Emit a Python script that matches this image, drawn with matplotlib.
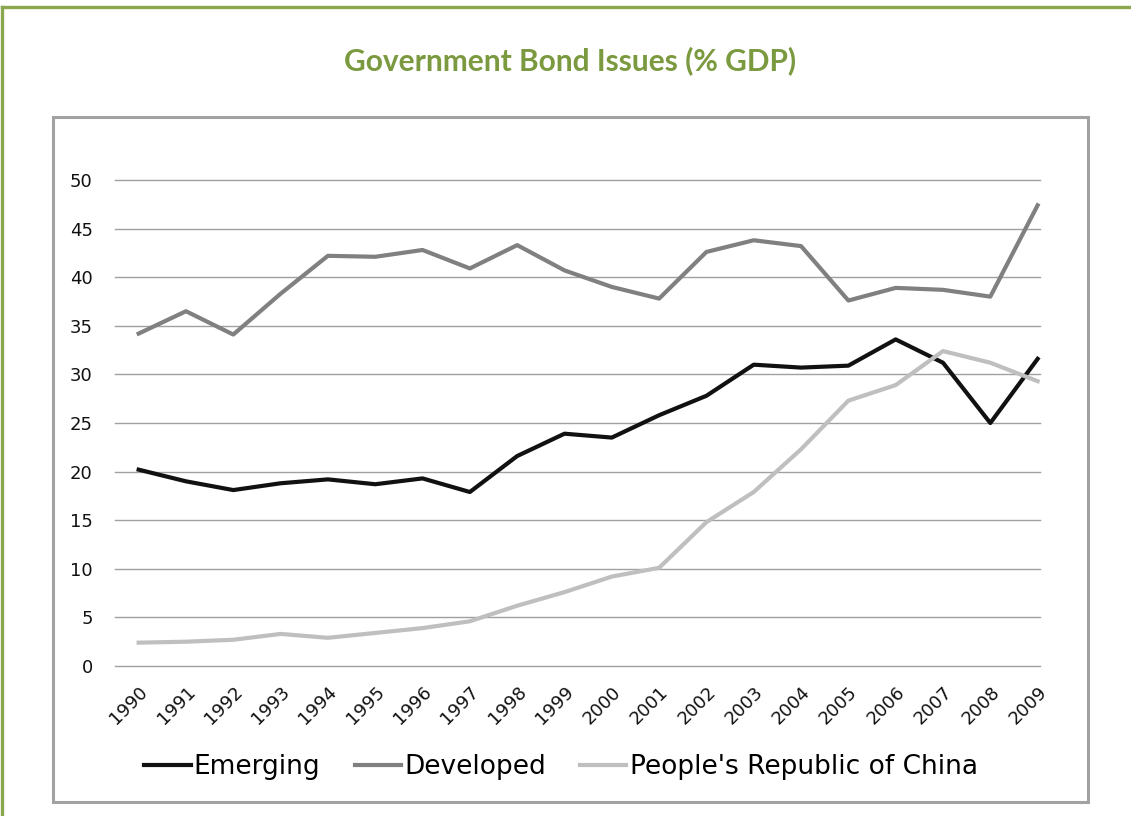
import matplotlib
matplotlib.use("Agg")
import matplotlib.pyplot as plt
from matplotlib.lines import Line2D
from matplotlib.patches import Rectangle

# values (% of GDP)
years = list(range(1990, 2010))
emerging = [20.2, 19.0, 18.1, 18.8, 19.2, 18.7, 19.3, 17.9, 21.6, 23.9,
            23.5, 25.8, 27.8, 31.0, 30.7, 30.9, 33.6, 31.2, 25.0, 31.6]
developed = [34.2, 36.5, 34.1, 38.3, 42.2, 42.1, 42.8, 40.9, 43.3, 40.7,
             39.0, 37.8, 42.6, 43.8, 43.2, 37.6, 38.9, 38.7, 38.0, 47.4]
china = [2.4, 2.5, 2.7, 3.3, 2.9, 3.4, 3.9, 4.6, 6.2, 7.6,
         9.2, 10.1, 14.8, 17.9, 22.3, 27.3, 28.9, 32.4, 31.2, 29.3]
series_names = ["Emerging", "Developed", "People's Republic of China"]
yticks = list(range(0, 51, 5))
title = "Government Bond Issues (% GDP)"

W, H = 1131, 816
fig = plt.figure(figsize=(W / 100, H / 100), dpi=100)

def px(x0, y0, x1, y1):
    # pixel box (top-left origin) -> figure fraction [l, b, w, h]
    return [x0 / W, 1 - y1 / H, (x1 - x0) / W, (y1 - y0) / H]

# green outer frame (top + left edges only)
fig.add_artist(Line2D([2 / W, 1], [1 - 7 / H, 1 - 7 / H], color="#8aa64e", lw=2.4,
                      transform=fig.transFigure))
fig.add_artist(Line2D([2 / W, 2 / W], [0, 1 - 7 / H], color="#8aa64e", lw=2.4,
                      transform=fig.transFigure))

fig.text(570 / W, 1 - 61 / H, title, ha="center", va="center",
         fontsize=21.5, fontweight="bold", family=["Lato", "DejaVu Sans"], color="#7b9a3f")

# gray chart box
l, b, w, h = px(53, 117, 1088, 802)
fig.add_artist(Rectangle((l, b), w, h, transform=fig.transFigure, fill=False,
                         edgecolor="#a2a2a2", lw=2.2))

ax = fig.add_axes(px(115, 180, 1040, 666))
colors = ["#111111", "#808080", "#bfbfbf"]
for vals, name, c in zip([emerging, developed, china], series_names, colors):
    ax.plot(years, vals, color=c, lw=3, label=name, clip_on=False, zorder=3)

ax.set_xlim(1989.5, 2009.05)
ax.set_ylim(0, 50)
ax.set_yticks(yticks)
ax.set_xticks(years)
ax.set_xticklabels([str(y) for y in years], rotation=45, ha="right", va="top",
                   rotation_mode="anchor")
ax.tick_params(axis="both", length=0, labelsize=13, labelcolor="#111111")
ax.tick_params(axis="y", pad=16)
ax.tick_params(axis="x", pad=12)
ax.grid(axis="y", color="#a0a0a0", lw=1)
for gl in ax.get_ygridlines():
    gl.set_clip_on(False)
ax.set_axisbelow(True)
for s in ax.spines.values():
    s.set_visible(False)

ax.legend(loc="center", bbox_to_anchor=(561 / W, 1 - 767 / H), bbox_transform=fig.transFigure,
          ncol=3, frameon=False, fontsize=19, handlelength=1.75, handletextpad=0.12,
          columnspacing=1.3)

fig.savefig("out.png", dpi=100)
